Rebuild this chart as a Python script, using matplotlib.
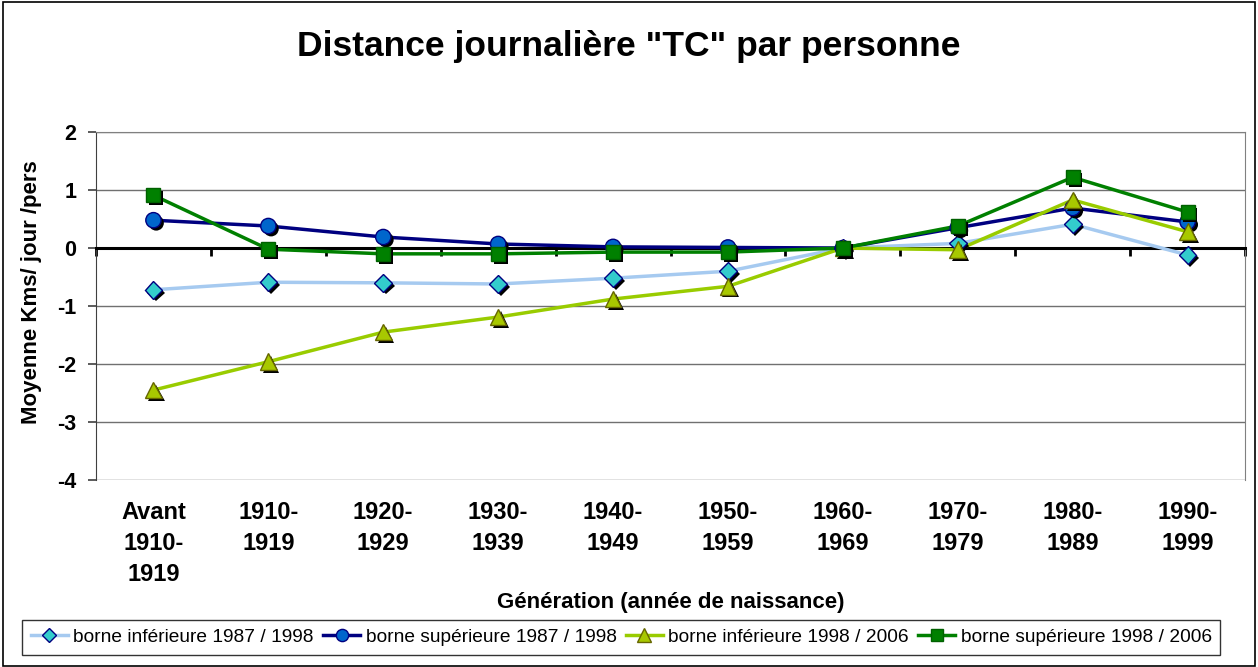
import matplotlib
matplotlib.use("Agg")
import matplotlib.pyplot as plt
import matplotlib.patheffects as pe
from matplotlib.patches import Rectangle
import numpy as np

plt.rcParams["font.family"] = ["Liberation Sans", "DejaVu Sans"]
plt.rcParams["axes.unicode_minus"] = False

# Catégories (générations)
generations = ["Avant\n1910-\n1919", "1910-\n1919", "1920-\n1929", "1930-\n1939",
               "1940-\n1949", "1950-\n1959", "1960-\n1969", "1970-\n1979",
               "1980-\n1989", "1990-\n1999"]

# Séries
inf_8798 = [-0.72, -0.59, -0.60, -0.62, -0.52, -0.40, 0.0, 0.08, 0.41, -0.12]
sup_8798 = [0.48, 0.38, 0.19, 0.07, 0.02, 0.01, 0.0, 0.35, 0.69, 0.45]
inf_9806 = [-2.45, -1.96, -1.45, -1.19, -0.88, -0.66, 0.0, -0.03, 0.83, 0.28]
sup_9806 = [0.91, -0.02, -0.10, -0.10, -0.07, -0.07, 0.0, 0.38, 1.22, 0.62]

series = [
    ("borne inférieure 1987 / 1998", inf_8798, "#A6CAF0", "D", "#33CCCC", "#000080", 9),
    ("borne supérieure 1987 / 1998", sup_8798, "#000080", "o", "#0066CC", "#000080", 11),
    ("borne inférieure 1998 / 2006", inf_9806, "#99CC00", "^", "#A8C800", "#666600", 12),
    ("borne supérieure 1998 / 2006", sup_9806, "#008000", "s", "#008000", "#006000", 10),
]

fig = plt.figure(figsize=(12.58, 6.67), dpi=100)
ax = fig.add_axes([0.0763, 0.2804, 0.9134, 0.5216])

x = np.arange(len(generations))
shadow = [pe.SimplePatchShadow(offset=(2, -2), shadow_rgbFace="black", alpha=1.0), pe.Normal()]
handles = []
for label, vals, lc, mk, fc, ec, ms in series:
    ax.plot(x, vals, color=lc, lw=2.5, zorder=3)
    ax.plot(x, vals, ls="none", marker=mk, ms=ms, mfc=fc, mec=ec, mew=1,
            path_effects=shadow, zorder=4)
    h, = ax.plot([], [], color=lc, lw=2.5, marker=mk, ms=ms * 0.8, mfc=fc, mec=ec, mew=1)
    h.set_label(label)
    handles.append(h)

ax.set_xlim(-0.5, len(generations) - 0.5)
ax.set_ylim(-4, 2)
ax.set_yticks(range(-4, 3))
ax.yaxis.grid(True, color="#707070", lw=1)
ax.set_axisbelow(True)
ax.tick_params(axis="y", labelsize=15.5, length=6, width=1.2, color="#404040", pad=8)
for t in ax.get_yticklabels():
    t.set_fontweight("bold")

# axe horizontal au niveau zéro, graduations entre les catégories
ax.spines["bottom"].set_position(("data", 0))
ax.spines["bottom"].set_linewidth(2.2)
ax.spines["bottom"].set_color("black")
ax.set_xticks(np.arange(-0.5, len(generations), 1.0))
ax.tick_params(axis="x", labelbottom=False, length=6, width=2, color="black")
for s in ["top", "right", "left"]:
    ax.spines[s].set_color("#808080")
ax.spines["left"].set_color("#404040")

sec = ax.secondary_xaxis(0.0)
sec.set_xticks(x)
sec.set_xticklabels(generations, fontsize=17, fontweight="bold", linespacing=1.45)
sec.tick_params(length=0, pad=15)
sec.spines["bottom"].set_visible(False)
sec.set_xlabel("Génération (année de naissance)", fontsize=16, fontweight="bold", labelpad=4)

ax.set_ylabel("Moyenne Kms/ jour /pers", fontsize=16, fontweight="bold")
ax.yaxis.set_label_coords(-0.047, 0.54)
fig.suptitle('Distance journalière "TC" par personne', fontsize=25.5, fontweight="bold",
             y=0.955)

leg = fig.legend(handles=handles, loc="lower center", bbox_to_anchor=(0.494, 0.004), ncol=4,
                 fontsize=13.8, frameon=True, fancybox=False,
                 edgecolor="black", handlelength=1.9, handletextpad=0.3,
                 columnspacing=0.5, borderpad=0.45)
leg.get_frame().set_linewidth(1.0)

fig.patches.append(Rectangle((0.002, 0.002), 0.996, 0.995, transform=fig.transFigure,
                             fill=False, edgecolor="black", lw=1.2))

fig.savefig("out.png", dpi=100)
